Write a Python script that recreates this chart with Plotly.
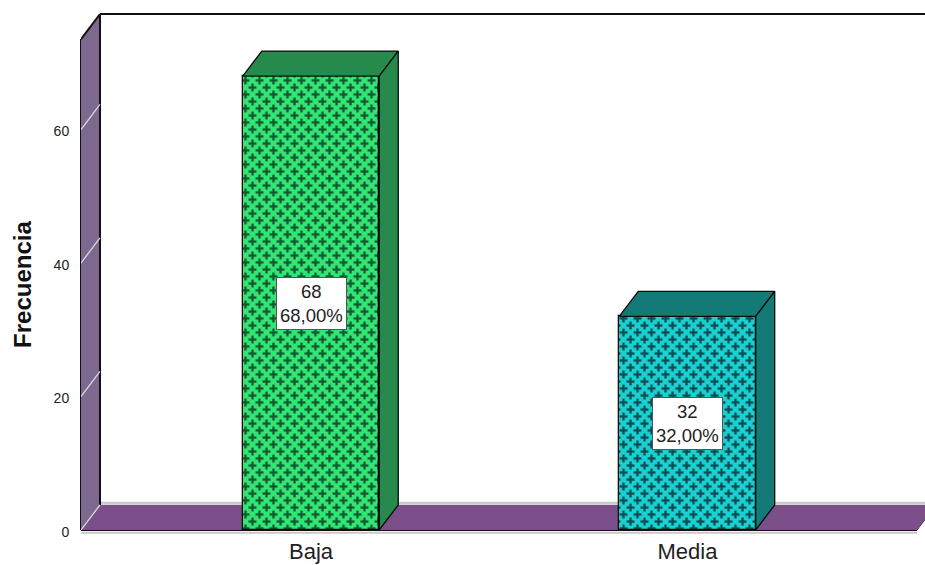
import plotly.graph_objects as go

categories = ["Baja", "Media"]
frequencies = [68, 32]
percentages = [68.00, 32.00]
y_ticks = [0, 20, 40, 60]

front_colors = ["#33e574", "#1ad0d0"]
cross_colors = ["#0d4a2a", "#083f46"]
side_colors = ["#268a4d", "#137a78"]
FLOOR = "#7d4f8a"
WALL = "#7d6890"
FONT = "Liberation Sans, Arial, sans-serif"

# Axis scale and oblique depth of the 3-D box effect
X_MIN, X_MAX = -0.611, 1.631
Y_MAX = 79.4
WALL_TOP = 73.55
BAR_W = 0.3625
DX = 0.0505
DY = 3.75
FLOOR_END = 1.61

# Staggered plus signs used as the fill texture of the bars. The tile is 14 px:
# plotly makes an "x" tile size*sqrt(2) wide, hence the pattern size below.
PATTERN_SIZE = 9.9
CROSS_TILE = ("M3.5,0V7.5M3.5,13.5V14M0,3.5H7.5M13.5,3.5H14"
              "M10.5,6.5V14M10.5,0V0.5M6.5,10.5H14M0,10.5H0.5")
CROSS_STROKE = 2.3


def poly(points):
    return "M" + " L".join(f"{x},{y}" for x, y in points) + " Z"


def seg(x0, y0, x1, y1, color, width=1.5, **refs):
    return dict(type="line", x0=x0, y0=y0, x1=x1, y1=y1, layer="below",
                line=dict(color=color, width=width), **refs)


shapes = [
    # side wall
    dict(type="path", layer="below", fillcolor=WALL, line=dict(width=0),
         path=poly([(X_MIN, 0), (X_MIN + DX, DY), (X_MIN + DX, WALL_TOP + DY), (X_MIN, WALL_TOP)])),
    # floor
    dict(type="path", layer="below", fillcolor=FLOOR, line=dict(width=0),
         path=poly([(X_MIN, 0), (X_MIN + DX, DY), (FLOOR_END + DX, DY), (FLOOR_END, 0)])),
    seg(X_MIN + DX, DY + 0.25, X_MAX, DY + 0.25, "#cacaca", 3),
    seg(X_MIN + DX, DY, X_MIN + DX, WALL_TOP + DY, "#111111", 2),
    seg(0, 0, 0, WALL_TOP, "#111111", 2, xref="paper", yref="y"),
    seg(X_MIN, WALL_TOP, X_MIN + DX, WALL_TOP + DY, "#111111", 2),
    seg(X_MIN + DX, WALL_TOP + DY, X_MAX, WALL_TOP + DY, "#111111", 2),
    seg(X_MIN, -0.005, FLOOR_END, -0.005, "#c8c8c8", 2, xref="x", yref="paper"),
    seg(X_MIN, 0, FLOOR_END, 0, "#111111", 2, xref="x", yref="paper"),
    seg(FLOOR_END, 0, FLOOR_END + DX, DY, "#444444", 1),
]
# wall gridlines
for t in y_ticks:
    shapes.append(seg(X_MIN, t, X_MIN + DX, t + DY, "#d8d8d8", 1.3))

fig = go.Figure()

for i, (cat, v) in enumerate(zip(categories, frequencies)):
    left, right = i - BAR_W / 2, i + BAR_W / 2
    # top face
    fig.add_trace(go.Scatter(
        x=[left, left + DX, right + DX, right, left],
        y=[v, v + DY, v + DY, v, v],
        mode="lines", fill="toself", fillcolor=side_colors[i],
        line=dict(color="#0a0a0a", width=1.3), hoverinfo="skip", showlegend=False))
    # side face
    fig.add_trace(go.Scatter(
        x=[right, right + DX, right + DX, right, right],
        y=[0, DY, v + DY, v, 0],
        mode="lines", fill="toself", fillcolor=side_colors[i],
        line=dict(color="#0a0a0a", width=1.3), hoverinfo="skip", showlegend=False))
    # front face
    fig.add_trace(go.Bar(
        x=[i], y=[v], width=BAR_W, name=cat, showlegend=False,
        marker=dict(
            color=front_colors[i],
            line=dict(color="#0a0a0a", width=1.3),
            pattern=dict(shape="x", size=PATTERN_SIZE, solidity=0.2,
                         fgcolor=cross_colors[i], bgcolor=front_colors[i],
                         fgopacity=0.9, fillmode="replace"),
        )))

annotations = [
    dict(x=i, y=v / 2, xref="x", yref="y",
         text=f"{v}<br>{p:.2f}%".replace(".", ","),
         showarrow=False, align="center",
         bgcolor="white", bordercolor="#555555", borderwidth=1, borderpad=3,
         font=dict(family=FONT, size=18.5, color="#222222"))
    for i, (v, p) in enumerate(zip(frequencies, percentages))
]
annotations.append(dict(
    xref="paper", yref="paper", x=-0.0695, y=0.463, xanchor="center", yanchor="middle",
    text="<b>Frecuencia</b>", showarrow=False, textangle=-90,
    font=dict(family=FONT, size=24, color="#111111"),
))

fig.update_layout(
    width=925, height=565, autosize=False,
    margin=dict(l=81, r=0, t=0, b=35, autoexpand=False),
    paper_bgcolor="white", plot_bgcolor="white",
    shapes=shapes, annotations=annotations,
    bargap=0,
    font=dict(family=FONT, color="#222222"),
    xaxis=dict(range=[X_MIN, X_MAX], tickvals=[0, 1], ticktext=categories,
               showgrid=False, zeroline=False, showline=False, automargin=False,
               ticks="outside", ticklen=2, tickcolor="rgba(0,0,0,0)",
               tickfont=dict(family=FONT, size=22, color="#222222")),
    yaxis=dict(range=[0, Y_MAX], tickvals=y_ticks,
               showgrid=False, zeroline=False, showline=False, automargin=False,
               ticks="outside", ticklen=8, tickcolor="rgba(0,0,0,0)",
               ticklabelshift=2,
               tickfont=dict(family=FONT, size=14, color="#222222")),
)

# Swap the lattice in each bar's fill pattern for the staggered plus tile
swap_tile = """
document.querySelectorAll('pattern path').forEach(function (p) {
    p.setAttribute('d', '%s');
    p.style.strokeWidth = '%spx';
});
""" % (CROSS_TILE, CROSS_STROKE)

fig.write_html("out.html", post_script=swap_tile)
